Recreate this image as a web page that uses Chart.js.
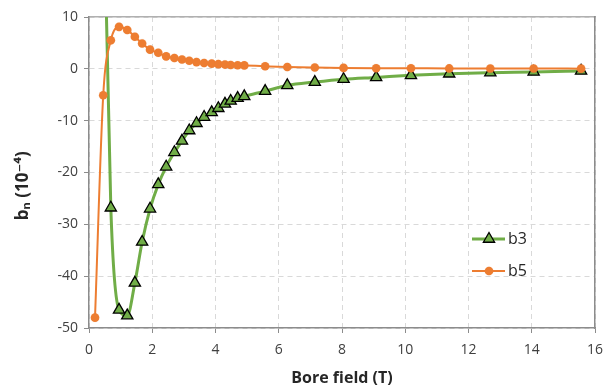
<!DOCTYPE html>
<html>
<head>
<meta charset="utf-8">
<script src="https://cdn.jsdelivr.net/npm/chart.js@4"></script>
<style>
  html, body { margin: 0; padding: 0; background: #fff; }
  #wrap { width: 609px; height: 386px; }
</style>
</head>
<body>
<div id="wrap"><canvas id="bnChart" width="609" height="386"></canvas></div>
<script>
// field values (T) and harmonics
const boreField = [0.19, 0.45, 0.69, 0.95, 1.21, 1.45, 1.68, 1.93, 2.19, 2.44, 2.7, 2.94, 3.17, 3.4, 3.64, 3.88, 4.09, 4.3, 4.48, 4.7, 4.91, 5.57, 6.27, 7.14, 8.05, 9.08, 10.18, 11.39, 12.69, 14.06, 15.56];
const b3 = [null, 40, -26.8, -46.5, -47.6, -41.3, -33.4, -27.0, -22.3, -18.9, -16.1, -13.9, -11.9, -10.5, -9.3, -8.4, -7.6, -6.75, -6.2, -5.65, -5.3, -4.3, -3.2, -2.55, -2.0, -1.65, -1.26, -0.95, -0.75, -0.6, -0.4];
const b5 = [-48, -5.1, 5.5, 8.1, 7.5, 6.2, 4.9, 3.7, 3.1, 2.4, 2.1, 1.8, 1.55, 1.3, 1.13, 1.0, 0.9, 0.82, 0.75, 0.7, 0.66, 0.5, 0.35, 0.25, 0.18, 0.12, 0.1, 0.08, 0.06, 0.05, 0.04];
const seriesNames = ["b3", "b5"];

const green = "#70AD47";
const orange = "#ED7D31";
const fontFamily = "'Open Sans', 'DejaVu Sans', sans-serif";

function toPoints(ys) {
  return boreField.map((x, i) => ({ x: x, y: ys[i] }));
}

// legend drawn inside the plot, like the original
const innerLegend = {
  id: "innerLegend",
  afterDatasetsDraw(chart) {
    const ctx = chart.ctx;
    const rows = [
      { y: 239, ds: chart.data.datasets[0] },
      { y: 271, ds: chart.data.datasets[1] },
    ];
    ctx.save();
    rows.forEach((r) => {
      ctx.strokeStyle = r.ds.borderColor;
      ctx.lineWidth = r.ds.borderWidth;
      ctx.beginPath();
      ctx.moveTo(472, r.y);
      ctx.lineTo(505, r.y);
      ctx.stroke();
      ctx.fillStyle = r.ds.pointBackgroundColor;
      ctx.strokeStyle = r.ds.pointBorderColor;
      ctx.lineWidth = r.ds.pointBorderWidth;
      Chart.helpers.drawPoint(ctx, {
        pointStyle: r.ds.pointStyle,
        radius: r.ds.pointRadius,
        borderWidth: r.ds.pointBorderWidth,
        rotation: 0,
      }, 489, r.y);
      ctx.fillStyle = "#262626";
      ctx.font = "16px " + fontFamily;
      ctx.textBaseline = "middle";
      ctx.fillText(r.ds.label, 508, r.y);
    });
    ctx.restore();
  },
};

const ctx = document.getElementById("bnChart").getContext("2d");
const chart = new Chart(ctx, {
  type: "line",
  data: {
    datasets: [
      {
        label: seriesNames[0],
        data: toPoints(b3),
        borderColor: green,
        backgroundColor: green,
        borderWidth: 3,
        pointStyle: "triangle",
        pointRadius: 6.5,
        pointBorderColor: "#000",
        pointBackgroundColor: green,
        pointBorderWidth: 1.3,
        cubicInterpolationMode: "monotone",
        order: 2,
      },
      {
        label: seriesNames[1],
        data: toPoints(b5),
        borderColor: orange,
        backgroundColor: orange,
        borderWidth: 2,
        pointStyle: "circle",
        pointRadius: 4.3,
        pointBorderColor: orange,
        pointBackgroundColor: orange,
        pointBorderWidth: 0.1,
        cubicInterpolationMode: "monotone",
        order: 1,
      },
    ],
  },
  options: {
    responsive: false,
    animation: false,
    events: [],
    layout: { padding: { top: 0, left: 0, right: 0, bottom: 0 } },
    plugins: {
      legend: { display: false },
      tooltip: { enabled: false },
    },
    scales: {
      x: {
        type: "linear",
        min: 0,
        max: 16,
        ticks: {
          stepSize: 2,
          color: "#404040",
          font: { family: fontFamily, size: 14 },
          padding: 9,
        },
        grid: {
          color: "#d9d9d9",
          lineWidth: 1,
          tickLength: 5,
          tickColor: "#8c8c8c",
          tickBorderDash: [],
        },
        border: { color: "#8c8c8c", width: 1.5, dash: [5, 4] },
        title: {
          display: true,
          text: "Bore field (T)",
          color: "#262626",
          font: { family: fontFamily, size: 16, weight: "bold", lineHeight: 1.0 },
          padding: { top: 0, bottom: 0 },
        },
        afterFit(scale) {
          scale.height = 58;
          scale.paddingRight = 0;
          scale.paddingLeft = 0;
        },
      },
      xTop: {
        type: "linear",
        position: "top",
        min: 0,
        max: 16,
        ticks: { display: false },
        grid: { drawOnChartArea: false, drawTicks: false },
        border: { color: "#b0b0b0", width: 1.5 },
        afterFit(scale) { scale.height = 17; },
      },
      y: {
        min: -50,
        max: 10,
        ticks: {
          stepSize: 10,
          color: "#404040",
          font: { family: fontFamily, size: 14 },
          padding: 6,
        },
        grid: {
          color: "#d9d9d9",
          lineWidth: 1,
          tickLength: 5,
          tickColor: "#8c8c8c",
          tickBorderDash: [],
        },
        border: { color: "#8c8c8c", width: 1.5, dash: [5, 4] },
        title: {
          display: true,
          text: "bₙ (10⁻⁴)      ",
          color: "#262626",
          font: { family: fontFamily, size: 17, weight: "bold" },
          padding: { top: 13, bottom: 0 },
        },
        afterFit(scale) { scale.width = 89; },
      },
      yRight: {
        position: "right",
        min: -50,
        max: 10,
        ticks: { display: false },
        grid: { drawOnChartArea: false, drawTicks: false },
        border: { color: "#8c8c8c", width: 1.5 },
        afterFit(scale) { scale.width = 14; },
      },
    },
  },
  plugins: [innerLegend],
});
</script>
</body>
</html>
